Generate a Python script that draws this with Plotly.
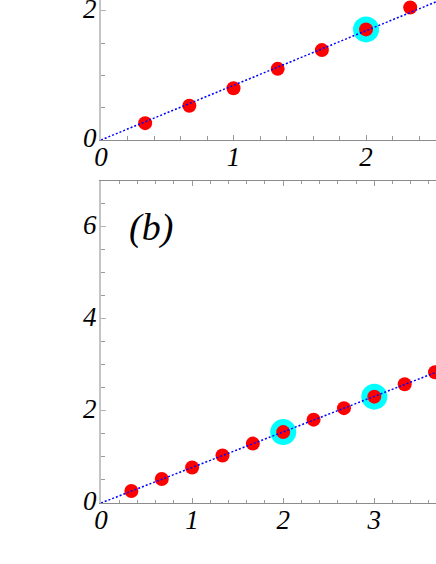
import plotly.graph_objects as go

# Panel (a) data
xa = [1/3, 2/3, 1, 4/3, 5/3, 2, 7/3]
ya = [0.26, 0.53, 0.80, 1.10, 1.39, 1.71, 2.05]
hl_a = [5]              # highlighted point indices (x = 2)
slope_a = 0.845

# Panel (b) data
xb = [1/3, 2/3, 1, 4/3, 5/3, 2, 7/3, 8/3, 3, 10/3, 11/3]
yb = [0.26, 0.52, 0.77, 1.03, 1.29, 1.54, 1.81, 2.06, 2.31, 2.58, 2.84]
hl_b = [5, 8]           # highlighted point indices (x = 2, 3)
slope_b = 0.772

xa_range = [0, 2.528]
ya_range = [0, 2.165]
xb_range = [0, 3.677]
yb_range = [0, 7]

fig = go.Figure()

def add_panel(x, y, hl, slope, xr, xref, yref):
    fig.add_trace(go.Scatter(
        x=[x[i] for i in hl], y=[y[i] for i in hl], mode="markers",
        marker=dict(size=26, color="#00ffff", line=dict(width=0)),
        xaxis=xref, yaxis=yref, showlegend=False, hoverinfo="skip", cliponaxis=False))
    fig.add_trace(go.Scatter(
        x=x, y=y, mode="markers",
        marker=dict(size=14, color="#ff0000", line=dict(width=0)),
        xaxis=xref, yaxis=yref, showlegend=False, cliponaxis=False))
    fig.add_trace(go.Scatter(
        x=[0, xr[1] * 1.2], y=[0, slope * xr[1] * 1.2], mode="lines",
        line=dict(color="#0000ff", width=1.5, dash="2px,2px"),
        xaxis=xref, yaxis=yref, showlegend=False, hoverinfo="skip"))

add_panel(xa, ya, hl_a, slope_a, xa_range, "x", "y")
add_panel(xb, yb, hl_b, slope_b, xb_range, "x2", "y2")

tickfont = dict(family="Liberation Serif", size=27, color="black", style="italic")
xcommon = dict(showgrid=False, zeroline=False, showline=True, linecolor="#8c8c8c", linewidth=1,
               ticks="inside", ticklen=5, tickcolor="#9a9a9a", tickwidth=1, dtick=1, tick0=0,
               minor=dict(dtick=0.2, tick0=0, ticks="inside", ticklen=3.5, tickcolor="#9a9a9a", tickwidth=1),
               tickfont=tickfont, fixedrange=True, automargin=False, ticklabeloverflow="allow",
               ticklabelstandoff=-7)
ycommon = dict(showgrid=False, zeroline=False, showline=True, linecolor="#c4c4c4", linewidth=2,
               ticks="inside", ticklen=5, tickcolor="#b0b0b0", tickwidth=1, dtick=2, tick0=0,
               minor=dict(dtick=0.5, tick0=0, ticks="inside", ticklen=4, tickcolor="#9a9a9a", tickwidth=1),
               tickfont=tickfont, fixedrange=True, automargin=False, ticklabeloverflow="allow",
               ticklabelstandoff=-3, ticklabelshift=-2)

fig.update_layout(
    width=436, height=564,
    margin=dict(l=101, r=0, t=0, b=61),
    paper_bgcolor="white", plot_bgcolor="white",
    xaxis=dict(xcommon, range=xa_range, domain=[0, 1], anchor="y"),
    yaxis=dict(ycommon, range=ya_range, domain=[0.7217, 1], anchor="x"),
    xaxis2=dict(xcommon, range=xb_range, domain=[0, 1], anchor="y2", mirror="ticks"),
    yaxis2=dict(ycommon, range=yb_range, domain=[0, 0.6408], anchor="x2"),
    annotations=[dict(text="(b)", x=0.55, y=5.98, xref="x2", yref="y2", showarrow=False,
                      font=dict(family="Liberation Serif", size=38, color="black", style="italic"))],
)

fig.write_html("out.html", config={"displayModeBar": False},
               post_script="document.body.style.margin='0';document.body.style.overflow='hidden';")
